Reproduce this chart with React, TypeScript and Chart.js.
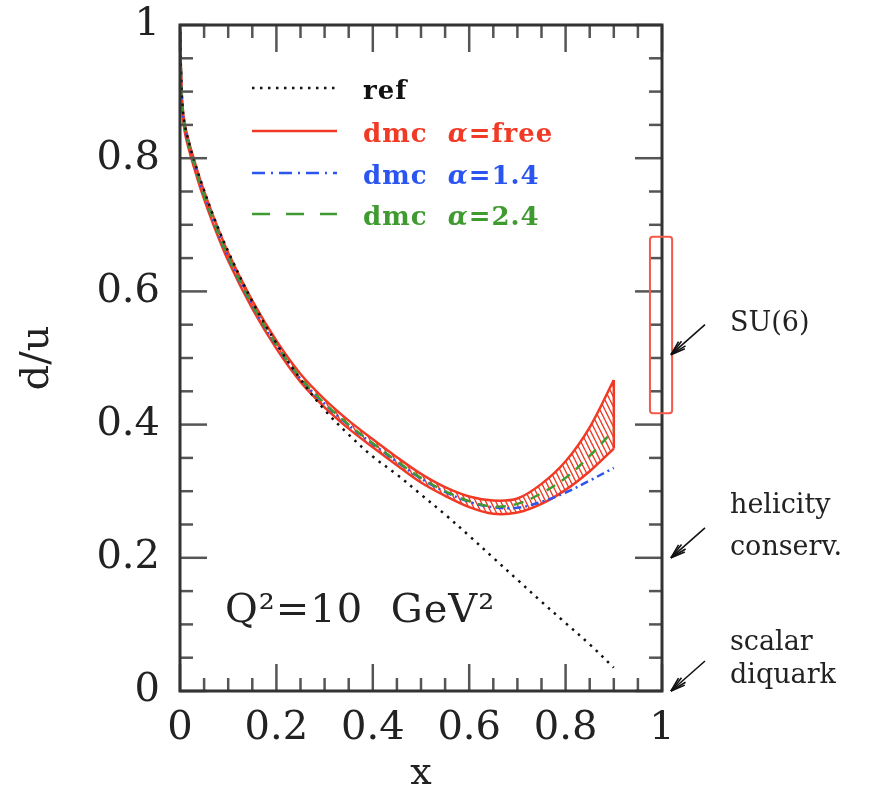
import React, { useEffect, useRef } from 'react';
import { Chart, registerables } from 'chart.js';

Chart.register(...registerables);

// ---- data ----
const xs = [0.0005, 0.002, 0.005, 0.01, 0.02, 0.03, 0.045, 0.07, 0.1, 0.15, 0.2, 0.25, 0.3, 0.35, 0.4, 0.45, 0.5, 0.55, 0.6, 0.65, 0.7, 0.75, 0.8, 0.85, 0.9];
const refVals = [0.99, 0.93, 0.88, 0.85, 0.82, 0.795, 0.762, 0.712, 0.66, 0.585, 0.522, 0.468, 0.422, 0.385, 0.352, 0.325, 0.295, 0.265, 0.233, 0.2, 0.167, 0.134, 0.102, 0.07, 0.035];
const dmc24 = [0.99, 0.93, 0.875, 0.845, 0.815, 0.79, 0.755, 0.705, 0.652, 0.58, 0.52, 0.47, 0.432, 0.4, 0.372, 0.345, 0.32, 0.3, 0.285, 0.277, 0.281, 0.297, 0.32, 0.353, 0.392];
const dmc14 = [0.99, 0.93, 0.875, 0.845, 0.815, 0.79, 0.755, 0.705, 0.651, 0.579, 0.519, 0.469, 0.431, 0.399, 0.371, 0.344, 0.319, 0.299, 0.284, 0.276, 0.275, 0.284, 0.298, 0.316, 0.335];
const freeUpper = [0.995, 0.935, 0.881, 0.851, 0.821, 0.796, 0.761, 0.711, 0.658, 0.586, 0.526, 0.476, 0.438, 0.406, 0.378, 0.351, 0.326, 0.306, 0.292, 0.286, 0.289, 0.311, 0.345, 0.396, 0.467];
const freeLower = [0.985, 0.925, 0.869, 0.839, 0.809, 0.784, 0.749, 0.699, 0.646, 0.574, 0.514, 0.464, 0.426, 0.394, 0.366, 0.339, 0.313, 0.293, 0.276, 0.266, 0.268, 0.281, 0.302, 0.33, 0.364];

const xTickVals = [0, 0.2, 0.4, 0.6, 0.8, 1];
const yTickVals = [0, 0.2, 0.4, 0.6, 0.8, 1];
const minorTickVals = [0, 0.05, 0.1, 0.15, 0.2, 0.25, 0.3, 0.35, 0.4, 0.45, 0.5, 0.55, 0.6, 0.65, 0.7, 0.75, 0.8, 0.85, 0.9, 0.95, 1];

const su6Box = { x0: 0.975, x1: 1.021, y0: 0.417, y1: 0.682 };
const sideNotes = [
  { lines: ['SU(6)'], target: 0.505, baselines: [0.54] },
  { lines: ['helicity', 'conserv.'], target: 0.2, baselines: [0.267, 0.204] },
  { lines: ['scalar', 'diquark'], target: 0.0, baselines: [0.062, 0.012] },
];

const RED = '#f03a26';
const BLUE = '#2a55f0';
const GREEN = '#3f9a30';
const SERIF = '"DejaVu Serif", "Liberation Serif", serif';

const pts = (vals: number[]) => xs.map((x, i) => ({ x, y: vals[i] }));
const fmt = (v: number) => String(Number(v.toFixed(1)));

function makeHatch(): CanvasPattern | string {
  const c = document.createElement('canvas');
  c.width = 5;
  c.height = 10;
  const g = c.getContext('2d');
  if (!g) return 'rgba(240,58,38,0.4)';
  g.strokeStyle = RED;
  g.lineWidth = 1.4;
  g.beginPath();
  for (const o of [-5, 0, 5]) {
    g.moveTo(o, 0);
    g.lineTo(o + 5, 10);
  }
  g.stroke();
  return g.createPattern(c, 'repeat') || 'rgba(240,58,38,0.4)';
}

const decor = {
  id: 'decor',
  afterDraw(chart: any) {
    const { ctx, chartArea: a, scales } = chart;
    const xs_ = scales.x;
    const ys_ = scales.y;
    ctx.save();

    const line = (x1: number, y1: number, x2: number, y2: number) => {
      ctx.beginPath();
      ctx.moveTo(x1, y1);
      ctx.lineTo(x2, y2);
      ctx.stroke();
    };

    // inward ticks on all four sides
    ctx.strokeStyle = '#555';
    ctx.lineWidth = 2.5;
    for (const v of minorTickVals) {
      const major = Math.abs(v * 5 - Math.round(v * 5)) < 1e-6;
      const len = major ? 27 : 13;
      const px = xs_.getPixelForValue(v);
      line(px, a.bottom, px, a.bottom - len);
      line(px, a.top, px, a.top + len);
      const py = ys_.getPixelForValue(v);
      line(a.left, py, a.left + len, py);
      line(a.right, py, a.right - len, py);
    }

    // frame
    ctx.strokeStyle = '#333';
    ctx.lineWidth = 3;
    ctx.strokeRect(a.left, a.top, a.right - a.left, a.bottom - a.top);

    // SU(6) box
    ctx.strokeStyle = '#f25a4a';
    ctx.lineWidth = 2;
    const bx0 = xs_.getPixelForValue(su6Box.x0);
    const bx1 = xs_.getPixelForValue(su6Box.x1);
    const by0 = ys_.getPixelForValue(su6Box.y1);
    const by1 = ys_.getPixelForValue(su6Box.y0);
    ctx.beginPath();
    if (ctx.roundRect) ctx.roundRect(bx0, by0, bx1 - bx0, by1 - by0, 3);
    else ctx.rect(bx0, by0, bx1 - bx0, by1 - by0);
    ctx.stroke();

    // side notes with arrows
    ctx.fillStyle = '#222';
    ctx.font = `27px ${SERIF}`;
    ctx.textAlign = 'left';
    ctx.textBaseline = 'alphabetic';
    for (const n of sideNotes) {
      n.lines.forEach((t, i) => ctx.fillText(t, a.right + 68, ys_.getPixelForValue(n.baselines[i])));
      const tipX = a.right + 9;
      const tipY = ys_.getPixelForValue(n.target);
      const tailX = tipX + 34;
      const tailY = tipY - 30;
      ctx.strokeStyle = '#111';
      ctx.lineWidth = 1.6;
      line(tailX, tailY, tipX, tipY);
      const ang = Math.atan2(tipY - tailY, tipX - tailX);
      for (const s of [0.32, 0.18]) {
        for (const sign of [-1, 1]) {
          const L = s > 0.3 ? 15 : 17;
          line(tipX, tipY, tipX - L * Math.cos(ang + sign * s), tipY - L * Math.sin(ang + sign * s));
        }
      }
    }

    // legend
    const lx0 = a.left + 72;
    const lx1 = a.left + 157;
    const tx = a.left + 183;
    const rows = [
      { y: a.top + 63, color: '#111', dash: [2.5, 5.5], width: 2.5, label: [['ref', false]] },
      { y: a.top + 106, color: RED, dash: [], width: 2.5, label: [['dmc  ', false], ['\u03b1', true], ['=free', false]] },
      { y: a.top + 148, color: BLUE, dash: [13, 6, 2, 6], width: 2.5, label: [['dmc  ', false], ['\u03b1', true], ['=1.4', false]] },
      { y: a.top + 189, color: GREEN, dash: [18, 16], width: 2.5, label: [['dmc  ', false], ['\u03b1', true], ['=2.4', false]] },
    ];
    for (const r of rows) {
      ctx.strokeStyle = r.color;
      ctx.lineWidth = r.width;
      ctx.setLineDash(r.dash);
      line(lx0, r.y, lx1, r.y);
      ctx.setLineDash([]);
      ctx.fillStyle = r.color;
      let cx = tx;
      (ctx as any).letterSpacing = '1px';
      for (const [t, it] of r.label as [string, boolean][]) {
        ctx.font = `${it ? 'italic ' : ''}bold 26px ${SERIF}`;
        ctx.fillText(t, cx, r.y + 11);
        cx += ctx.measureText(t).width;
      }
      (ctx as any).letterSpacing = '0px';
    }

    // Q^2 annotation
    ctx.fillStyle = '#222';
    ctx.font = `40px ${SERIF}`;
    (ctx as any).letterSpacing = '1px';
    ctx.fillText('Q\u00b2=10  GeV\u00b2', a.left + 45, ys_.getPixelForValue(0.104));
    (ctx as any).letterSpacing = '0px';

    ctx.restore();
  },
};

export default function App() {
  const ref = useRef<HTMLCanvasElement>(null);
  useEffect(() => {
    if (!ref.current) return;
    const hatch = makeHatch();
    const common = { pointRadius: 0, fill: false, tension: 0.35, borderCapStyle: 'butt' as const };
    const tickFont = { family: SERIF, size: 40 };
    const chart = new Chart(ref.current, {
      type: 'line',
      data: {
        datasets: [
          { ...common, label: 'ref', data: pts(refVals), borderColor: '#111', borderWidth: 2.5, borderDash: [2.5, 5.5] },
          { ...common, label: 'dmc α=2.4', data: pts(dmc24), borderColor: GREEN, borderWidth: 2.5, borderDash: [10, 8] },
          { ...common, label: 'dmc α=1.4', data: pts(dmc14), borderColor: BLUE, borderWidth: 2.5, borderDash: [8, 4, 2, 4] },
          { ...common, label: 'dmc α=free upper', data: pts(freeUpper), borderColor: RED, borderWidth: 2.5, fill: '+1', backgroundColor: hatch },
          { ...common, label: 'dmc α=free lower', data: pts(freeLower), borderColor: RED, borderWidth: 2.5 },
          {
            ...common,
            label: 'cap',
            data: [
              { x: xs[xs.length - 1], y: freeUpper[freeUpper.length - 1] },
              { x: xs[xs.length - 1], y: freeLower[freeLower.length - 1] },
            ],
            borderColor: RED,
            borderWidth: 2.5,
          },
        ],
      },
      options: {
        animation: false,
        responsive: false,
        layout: { padding: { top: 25, right: 213, left: 0, bottom: 0 } },
        plugins: { legend: { display: false }, tooltip: { enabled: false } },
        scales: {
          x: {
            type: 'linear',
            min: 0,
            max: 1,
            afterBuildTicks: (s: any) => {
              s.ticks = xTickVals.map((v) => ({ value: v }));
            },
            afterFit: (s: any) => {
              s.height = 106;
              s.paddingLeft = 0;
              s.paddingRight = 0;
            },
            grid: { display: false, drawTicks: false },
            border: { display: false },
            ticks: {
              font: tickFont,
              color: '#222',
              padding: 14,
              maxRotation: 0,
              autoSkip: false,
              callback: (v: any) => fmt(Number(v)),
            },
            title: { display: true, text: 'x', font: { family: SERIF, size: 38 }, color: '#222', padding: { top: 0, bottom: 0 } },
          },
          y: {
            type: 'linear',
            min: 0,
            max: 1,
            afterBuildTicks: (s: any) => {
              s.ticks = yTickVals.map((v) => ({ value: v }));
            },
            afterFit: (s: any) => {
              s.width = 180;
              s.paddingTop = 0;
              s.paddingBottom = 0;
            },
            grid: { display: false, drawTicks: false },
            border: { display: false },
            ticks: {
              font: tickFont,
              color: '#222',
              padding: 20,
              autoSkip: false,
              callback: (v: any) => fmt(Number(v)),
            },
            title: { display: true, text: 'd/u', font: { family: SERIF, size: 40 }, color: '#222', padding: { top: 14, bottom: 0 } },
          },
        },
      },
      plugins: [decor],
    });
    return () => chart.destroy();
  }, []);
  return (
    <div style={{ position: 'absolute', left: 0, top: 0, width: 875, height: 797, background: '#fff' }}>
      <canvas ref={ref} width={875} height={797} style={{ display: 'block' }} />
    </div>
  );
}
